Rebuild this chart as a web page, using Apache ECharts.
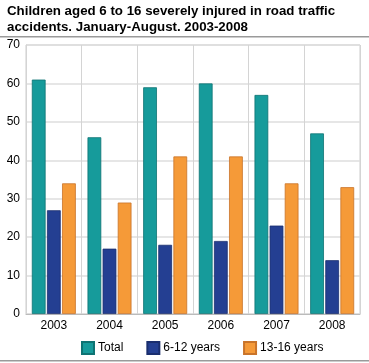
<!DOCTYPE html>
<html><head><meta charset="utf-8">
<script src="https://cdn.jsdelivr.net/npm/echarts@6/dist/echarts.min.js"></script>
<style>html,body{margin:0;padding:0;background:#fff;}#c{width:369px;height:363px;}</style>
</head><body><div id="c"></div>
<script>
const categories = ['2003','2004','2005','2006','2007','2008'];
const totalValues = [61, 46, 59, 60, 57, 47];
const age6to12Values = [27, 17, 18, 19, 23, 14];
const age13to16Values = [34, 29, 41, 41, 34, 33];
const seriesNames = ['Total', '6-12 years', '13-16 years'];
const yTicks = [0, 10, 20, 30, 40, 50, 60, 70];

const colors = ['#169b9b', '#243f92', '#f59a38'];
const borders = ['#0e7373', '#1a2e6e', '#c9742a'];
const chart = echarts.init(document.getElementById('c'), null, {renderer: 'canvas'});
const mk = (name, data, i) => ({
  name, type: 'bar', data,
  barGap: '10%', barCategoryGap: '21%',
  itemStyle: {color: colors[i], borderColor: borders[i], borderWidth: 0.8},
  emphasis: {disabled: true}
});
chart.setOption({
  animation: false,
  textStyle: {fontFamily: 'Liberation Sans, Arial, sans-serif'},
  title: {
    text: 'Children aged 6 to 16 severely injured in road traffic\naccidents. January-August. 2003-2008',
    left: 2, top: -2,
    textStyle: {fontSize: 13.3, fontWeight: 'bold', color: '#000', lineHeight: 16, fontFamily: 'Liberation Sans, Arial, sans-serif'}
  },
  graphic: [
    {type: 'rect', shape: {x: 0, y: 36, width: 369, height: 1.5}, style: {fill: '#9a9a9a'}},
    {type: 'rect', shape: {x: 0, y: 360, width: 369, height: 1.5}, style: {fill: '#9a9a9a'}}
  ],
  legend: {
    bottom: 3, left: 76, itemWidth: 12, itemHeight: 12, itemGap: 23,
    icon: 'rect',
    textStyle: {fontSize: 12, color: '#000', padding: [0, 0, 0, -1]},
    data: seriesNames
  },
  grid: {left: 26, right: 9, top: 45, bottom: 49, show: true, borderColor: '#cccccc', borderWidth: 1},
  xAxis: {
    type: 'category', data: categories,
    axisLine: {lineStyle: {color: '#bbbbbb'}},
    axisTick: {show: false},
    axisLabel: {color: '#000', fontSize: 12, margin: 6},
    splitLine: {show: true, lineStyle: {color: '#d4d4d4', width: 1}}
  },
  yAxis: {
    type: 'value', min: yTicks[0], max: yTicks[yTicks.length - 1], interval: 10,
    axisLine: {show: true, lineStyle: {color: '#d4d4d4'}},
    axisTick: {show: false},
    axisLabel: {color: '#000', fontSize: 12, margin: 6},
    splitLine: {lineStyle: {color: '#dedede', width: 1.5}}
  },
  series: [
    mk(seriesNames[0], totalValues, 0),
    mk(seriesNames[1], age6to12Values, 1),
    mk(seriesNames[2], age13to16Values, 2)
  ]
});
</script></body></html>
